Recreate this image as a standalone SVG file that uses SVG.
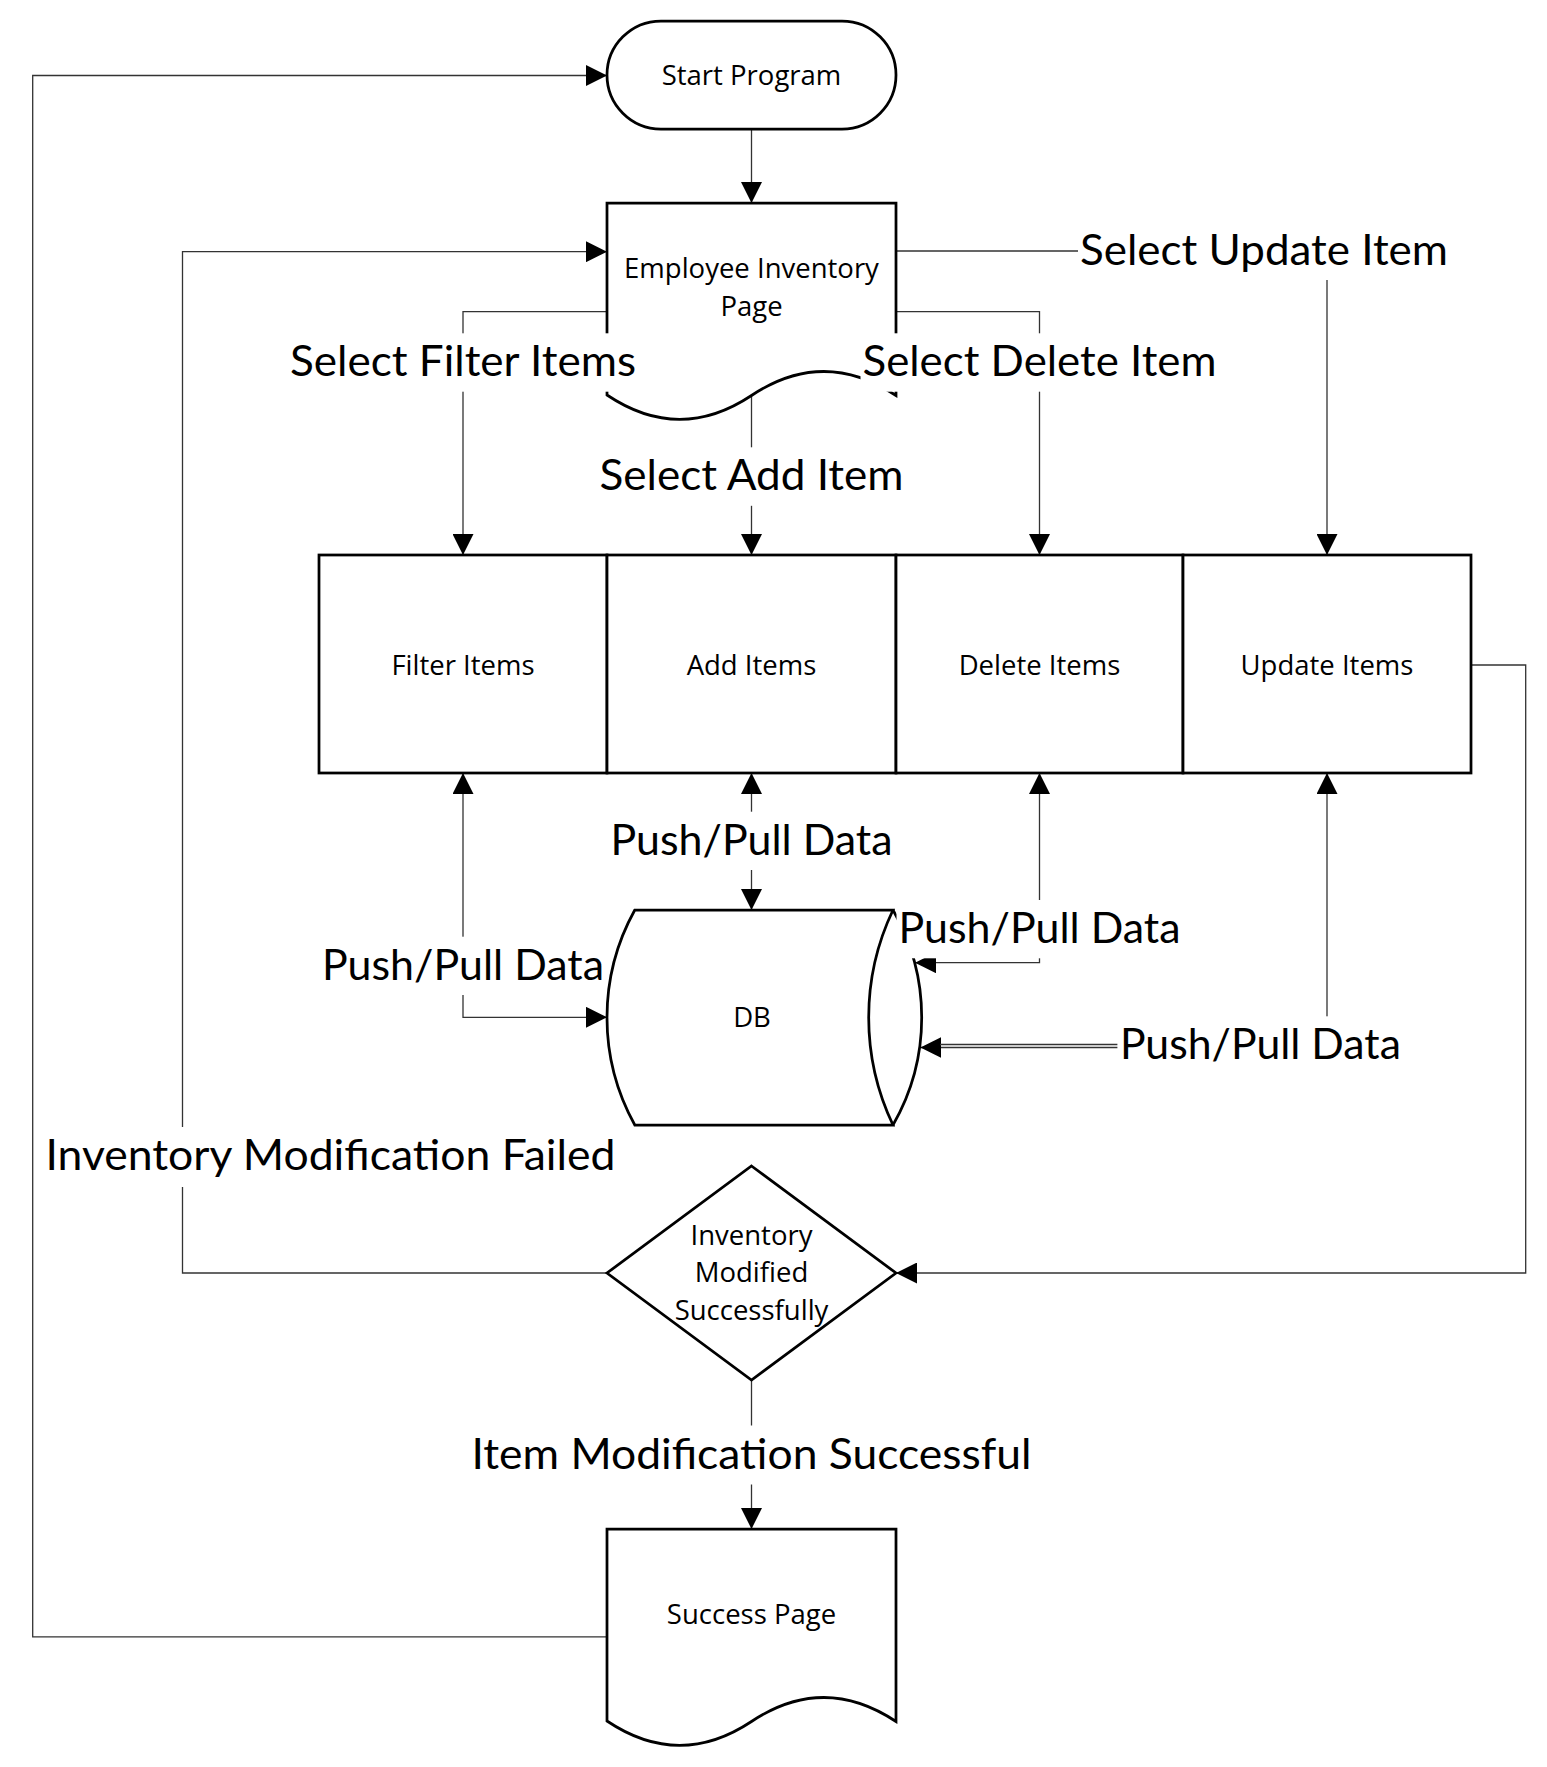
<svg xmlns="http://www.w3.org/2000/svg" width="1547" height="1767" viewBox="0 0 1547 1767">
  <style>
    .node { fill: #ffffff; stroke: #000000; stroke-width: 2.75; stroke-linejoin: miter; }
    .arcline { fill: none; stroke: #000000; stroke-width: 2.75; }
    .ntext { font-family: "Open Sans", "Liberation Sans", sans-serif; font-size: 27.5px; fill: #000000; text-anchor: middle; }
    .conn { fill: none; stroke: #333333; stroke-width: 1.3; }
    .lbg { fill: #ffffff; stroke: none; }
    .ltext { font-family: Lato, "Liberation Sans", sans-serif; font-size: 42px; fill: #000000; text-anchor: middle; }
  </style>
  <defs>
    <marker id="arr" markerUnits="userSpaceOnUse" markerWidth="21" markerHeight="21" viewBox="0 0 21 21" refX="21" refY="10.5" orient="auto-start-reverse">
      <path d="M0,0 L21,10.5 L0,21 Z" fill="#000000"/>
    </marker>
  </defs>
  <rect x="0" y="0" width="1547" height="1767" fill="#ffffff"/>

  <g id="connectors">
    <path id="c-start-emp" class="conn" d="M751.5,129 V203" marker-end="url(#arr)"/>
    <path id="c-emp-filter" class="conn" d="M607,311.7 H463 V555" marker-end="url(#arr)"/>
    <path id="c-emp-add" class="conn" d="M751.5,396 V555" marker-end="url(#arr)"/>
    <path id="c-emp-delete" class="conn" d="M896,311.7 H1039.5 V555" marker-end="url(#arr)"/>
    <path id="c-emp-update" class="conn" d="M896,251 H1327 V555" marker-end="url(#arr)"/>
    <path id="c-db-filter" class="conn" d="M607,1017.3 H463 V773" marker-start="url(#arr)" marker-end="url(#arr)"/>
    <path id="c-db-add" class="conn" d="M751.5,773 V910" marker-start="url(#arr)" marker-end="url(#arr)"/>
    <path id="c-delete-db" class="conn" d="M1039.5,773 V962.7 H915" marker-start="url(#arr)" marker-end="url(#arr)"/>
    <path id="c-update-db" class="conn" d="M1327,773 V1047.5 H920.4" marker-start="url(#arr)" marker-end="url(#arr)"/>
    <path id="c-update-db-2" class="conn" d="M1118,1044.5 H940" stroke="#777777" stroke-width="1"/>
    <path id="c-update-dec" class="conn" d="M1471,665 H1525.7 V1273 H896" marker-end="url(#arr)"/>
    <path id="c-dec-emp" class="conn" d="M607,1273 H182.5 V251.7 H607" marker-end="url(#arr)"/>
    <path id="c-dec-success" class="conn" d="M751.5,1380 V1529" marker-end="url(#arr)"/>
    <path id="c-success-start" class="conn" d="M607,1636.8 H32.7 V75.5 H607" marker-end="url(#arr)"/>
  </g>

  <g id="node-start">
    <rect class="node" x="607" y="21" width="289" height="108" rx="54" ry="54"/>
    <text class="ntext" x="751.5" y="85">Start Program</text>
  </g>

  <g id="node-employee-page">
    <path class="node" d="M607,203 H896 V395.5 Q823.75,347.5 751.5,395.5 T607,395 Z"/>
    <text class="ntext" x="751.5" y="278.3">Employee Inventory</text>
    <text class="ntext" x="751.5" y="316">Page</text>
  </g>

  <g id="node-filter">
    <rect class="node" x="319" y="555" width="288" height="218"/>
    <text class="ntext" x="463" y="674.5">Filter Items</text>
  </g>
  <g id="node-add">
    <rect class="node" x="607" y="555" width="289" height="218"/>
    <text class="ntext" x="751.5" y="674.5">Add Items</text>
  </g>
  <g id="node-delete">
    <rect class="node" x="896" y="555" width="287" height="218"/>
    <text class="ntext" x="1039.5" y="674.5">Delete Items</text>
  </g>
  <g id="node-update">
    <rect class="node" x="1183" y="555" width="288" height="218"/>
    <text class="ntext" x="1327" y="674.5">Update Items</text>
  </g>

  <g id="node-db">
    <path class="node" d="M634.8,910 H893 A249.9,249.9 0 0 0 893,1125 H634.8 A221.7,221.7 0 0 1 634.8,910 Z"/>
    <path class="arcline" d="M893,910 A215.7,215.7 0 0 1 893,1125"/>
    <text class="ntext" x="752" y="1027">DB</text>
  </g>

  <g id="node-decision">
    <path class="node" d="M751.5,1166 L896,1273 L751.5,1380 L607,1273 Z"/>
    <text class="ntext" x="751.5" y="1244.5">Inventory</text>
    <text class="ntext" x="751.5" y="1282">Modified</text>
    <text class="ntext" x="751.5" y="1320">Successfully</text>
  </g>

  <g id="node-success-page">
    <path class="node" d="M607,1529 H896 V1721.5 Q823.75,1673.5 751.5,1721.5 T607,1721 Z"/>
    <text class="ntext" x="751.5" y="1624">Success Page</text>
  </g>

  <g id="connector-labels">
    <rect class="lbg" x="1078" y="222" width="372" height="58"/>
    <text class="ltext" x="1264" y="265" textLength="368" lengthAdjust="spacingAndGlyphs">Select Update Item</text>

    <rect class="lbg" x="288" y="333.3" width="350" height="58.4"/>
    <text class="ltext" x="463" y="376" textLength="346" lengthAdjust="spacingAndGlyphs">Select Filter Items</text>

    <rect class="lbg" x="860.5" y="333.3" width="358" height="58.4"/>
    <text class="ltext" x="1039.5" y="376" textLength="354" lengthAdjust="spacingAndGlyphs">Select Delete Item</text>

    <rect class="lbg" x="597.5" y="447.3" width="308" height="58.5"/>
    <text class="ltext" x="751.5" y="490" textLength="304" lengthAdjust="spacingAndGlyphs">Select Add Item</text>

    <rect class="lbg" x="608.5" y="811.7" width="286" height="58.3"/>
    <text class="ltext" x="751.5" y="855" textLength="282" lengthAdjust="spacingAndGlyphs">Push/Pull Data</text>

    <rect class="lbg" x="320" y="936.7" width="286" height="58.3"/>
    <text class="ltext" x="463" y="980" textLength="282" lengthAdjust="spacingAndGlyphs">Push/Pull Data</text>

    <rect class="lbg" x="896.5" y="900" width="286" height="58.3"/>
    <text class="ltext" x="1039.5" y="943.3" textLength="282" lengthAdjust="spacingAndGlyphs">Push/Pull Data</text>

    <rect class="lbg" x="1117.4" y="1016.3" width="286" height="58.3"/>
    <text class="ltext" x="1260.4" y="1059.3" textLength="281" lengthAdjust="spacingAndGlyphs">Push/Pull Data</text>

    <rect class="lbg" x="43" y="1127" width="575" height="60"/>
    <text class="ltext" x="330.4" y="1170" textLength="570" lengthAdjust="spacingAndGlyphs">Inventory Modification Failed</text>

    <rect class="lbg" x="469.5" y="1425.5" width="564" height="59"/>
    <text class="ltext" x="751.5" y="1469" textLength="560" lengthAdjust="spacingAndGlyphs">Item Modification Successful</text>
  </g>
</svg>
